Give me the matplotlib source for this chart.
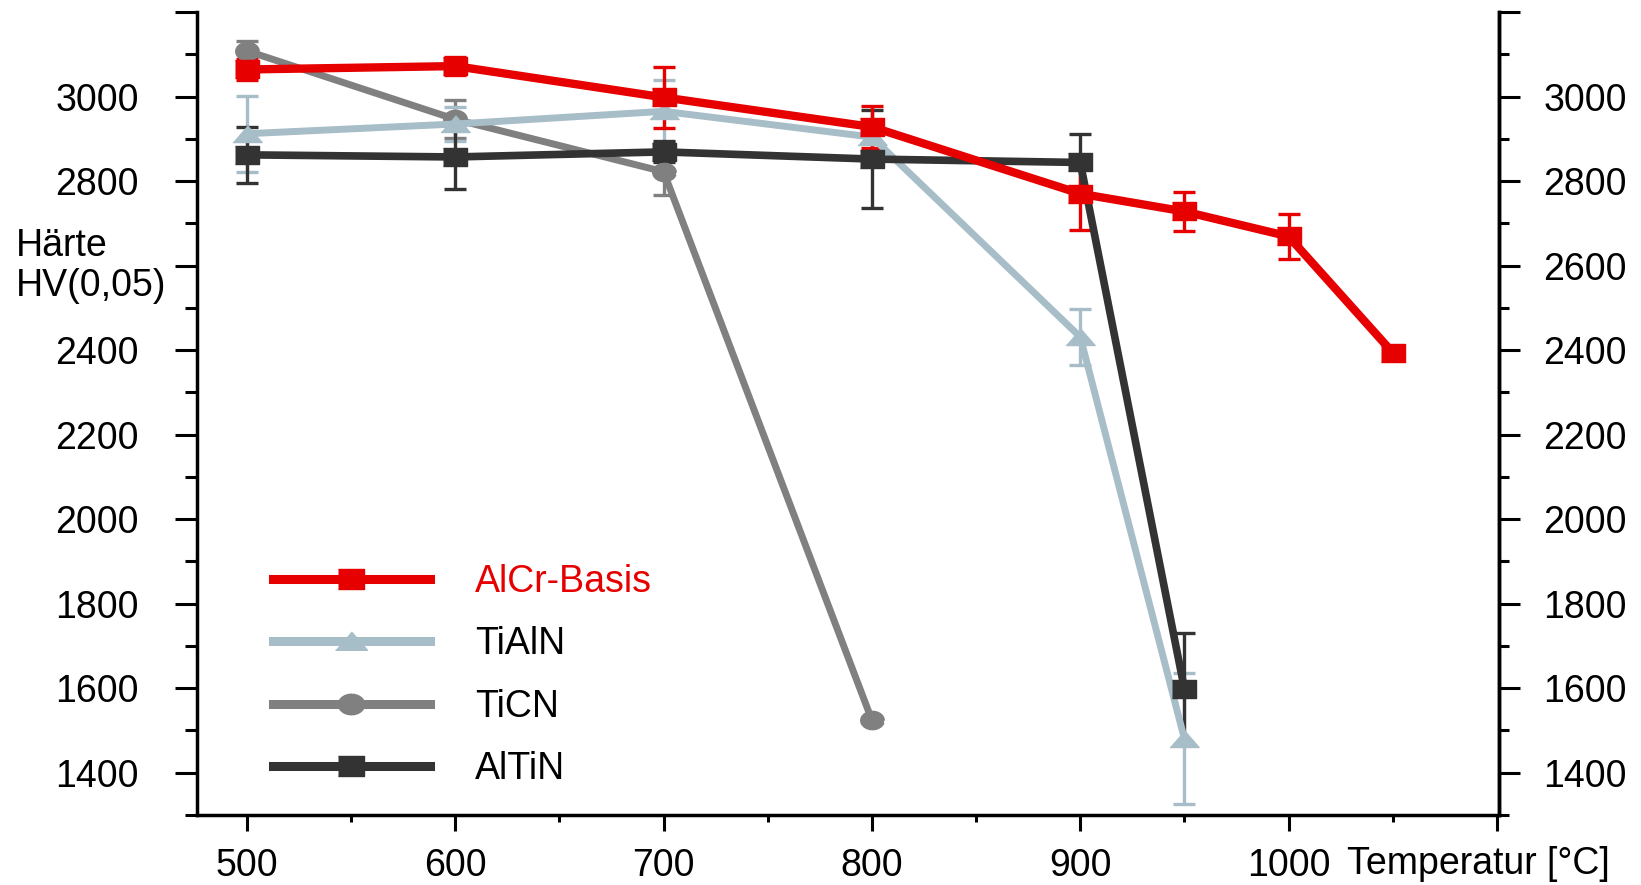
import math
import matplotlib
matplotlib.use("Agg")
import matplotlib.pyplot as plt
from matplotlib.lines import Line2D
from matplotlib.ticker import MultipleLocator, FuncFormatter

plt.rcParams['font.family'] = ['Liberation Sans', 'DejaVu Sans']

# temperature in °C, hardness HV(0,05)
t_alcr = [500, 600, 700, 800, 900, 950, 1000, 1050]
hv_alcr = [3064, 3072, 2998, 2928, 2770, 2728, 2669, 2394]
err_alcr = [25, 22, 73, 50, 85, 47, 53, 15]

t_tialn = [500, 600, 700, 800, 900, 950]
hv_tialn = [2912, 2935, 2965, 2904, 2431, 1480]
err_tialn = [90, 40, 73, 30, 67, 155]

t_ticn = [500, 600, 700, 800]
hv_ticn = [3108, 2946, 2822, 1524]
err_ticn = [23, 45, 55, 0]

t_altin = [500, 600, 700, 800, 900, 950]
hv_altin = [2862, 2857, 2869, 2852, 2844, 1598]
err_altin = [67, 75, 25, 116, 68, 133]

labels = ['AlCr-Basis', 'TiAlN', 'TiCN', 'AlTiN']
colors = ['#e60000', '#a7bdc8', '#808080', '#333333']

# flat marker shapes like in the original
sq = [(-1.3, -1), (1.3, -1), (1.3, 1), (-1.3, 1)]
tri = [(-1, -0.55), (1, -0.55), (0, 0.6)]
ell = [(math.cos(a / 24 * 2 * math.pi), 0.78 * math.sin(a / 24 * 2 * math.pi)) for a in range(24)]

fig = plt.figure(figsize=(16.41, 8.85), dpi=100)
ax = fig.add_axes([197 / 1641, 1 - 815 / 885, (1499 - 197) / 1641, (815 - 12) / 885])

series = [
    (t_ticn, hv_ticn, err_ticn, colors[2], ell, 17, 5),
    (t_tialn, hv_tialn, err_tialn, colors[1], tri, 21, 5),
    (t_altin, hv_altin, err_altin, colors[3], sq, 17, 5.5),
    (t_alcr, hv_alcr, err_alcr, colors[0], sq, 17, 6),
]
for x, y, e, c, m, ms, lw in series:
    ax.errorbar(x, y, yerr=e, color=c, lw=lw, marker=m, ms=ms, mec=c,
                elinewidth=2.4, capsize=8, capthick=2.4)

ax.set_xlim(476, 1101)
ax.set_ylim(1300, 3200)
ax.xaxis.set_major_locator(MultipleLocator(100))
ax.xaxis.set_minor_locator(MultipleLocator(50))
ax.yaxis.set_major_locator(MultipleLocator(200))
ax.yaxis.set_minor_locator(MultipleLocator(100))


def ylab_left(v, pos):
    # 2600 is left out on the left side, the axis title sits there
    if 1400 <= v <= 3000 and abs(v - 2600) > 1:
        return '%d' % v
    return ''


def ylab_right(v, pos):
    if 1400 <= v <= 3000:
        return '%d' % v
    return ''


def xlab(v, pos):
    if 500 <= v <= 1000:
        return '%d' % v
    return ''


ax.yaxis.set_major_formatter(FuncFormatter(ylab_left))
ax.xaxis.set_major_formatter(FuncFormatter(xlab))

ax.spines['top'].set_visible(False)
for s in ['left', 'right', 'bottom']:
    ax.spines[s].set_linewidth(2.5)

ax.tick_params(axis='y', which='major', direction='out', length=16, width=2.2, pad=26, labelsize=27)
ax.tick_params(axis='y', which='minor', direction='out', length=8.5, width=2.2)
ax.tick_params(axis='x', which='major', direction='out', length=11.5, width=2.2, pad=12, labelsize=27)
ax.tick_params(axis='x', which='minor', direction='out', length=5, width=2.2)

ax2 = ax.twinx()
ax2.set_ylim(ax.get_ylim())
ax2.yaxis.set_major_locator(MultipleLocator(200))
ax2.yaxis.set_minor_locator(MultipleLocator(100))
ax2.yaxis.set_major_formatter(FuncFormatter(ylab_right))
for s in ['top', 'left', 'bottom']:
    ax2.spines[s].set_visible(False)
ax2.spines['right'].set_linewidth(2.5)
ax2.tick_params(axis='y', which='major', direction='out', length=15, width=2.2, pad=17, labelsize=27)
ax2.tick_params(axis='y', which='minor', direction='out', length=7.5, width=2.2)

fig.text(16 / 1641, 1 - 246 / 885, 'Härte', fontsize=27, ha='left', va='center')
fig.text(16 / 1641, 1 - 286 / 885, 'HV(0,05)', fontsize=27, ha='left', va='center')
fig.text(1610 / 1641, 1 - 864 / 885, 'Temperatur [°C]', fontsize=27, ha='right', va='center')

markers = [sq, tri, ell, sq]
msizes = [19, 23, 19, 19]
handles = [Line2D([], [], color=colors[i], lw=6.5, marker=markers[i], ms=msizes[i], mec=colors[i])
           for i in range(4)]
leg = ax.legend(handles, labels, loc='lower left', bbox_to_anchor=(0.058, 0.035),
                frameon=False, fontsize=27, handlelength=4.2, handletextpad=1.2,
                labelspacing=0.7, borderpad=0, borderaxespad=0)
leg.get_texts()[0].set_color(colors[0])

fig.savefig('out.png', dpi=100)
